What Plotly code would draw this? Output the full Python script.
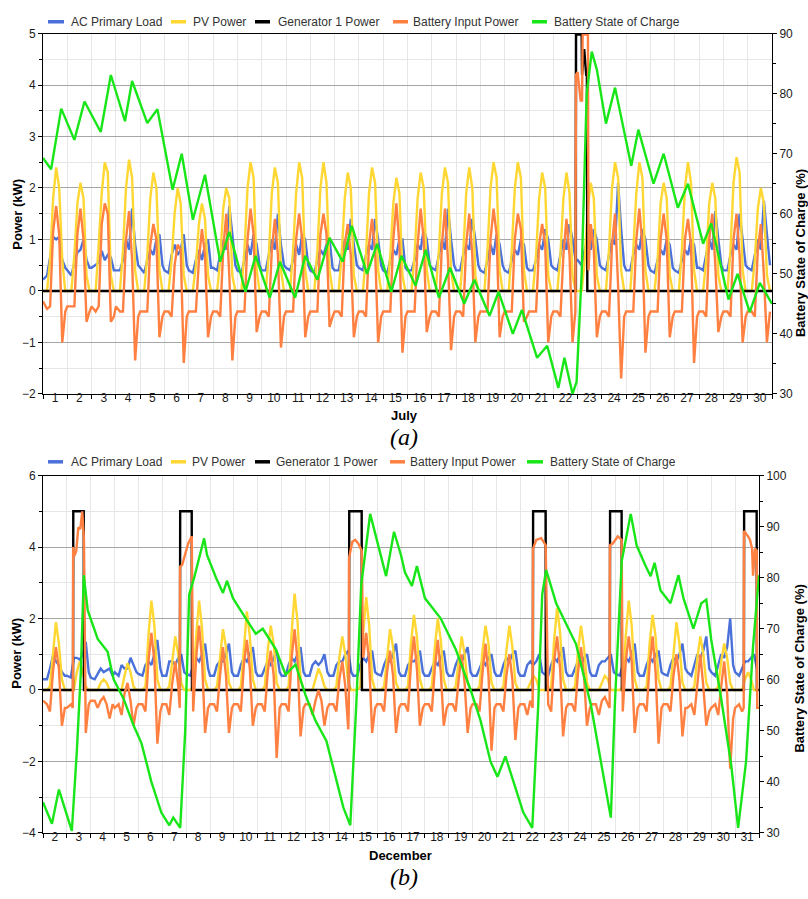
import plotly.graph_objects as go

# ---------------- DATA ----------------
HOURS = [0, 4, 7, 10, 13, 16, 19, 22]   # sample hours within each day

DAY_LABELS_A = ["1","2","3","4","5","6","7","8","9","10","11","12","13","14","15",
                "16","17","18","19","20","21","22","23","24","25","26","27","28","29","30"]
DAY_LABELS_B = ["2","3","4","5","6","7","8","9","10","11","12","13","14","15","16",
                "17","18","19","20","21","22","23","24","25","26","27","28","29","30","31"]

SERIES_NAMES = ["AC Primary Load", "PV Power", "Generator 1 Power",
                "Battery Input Power", "Battery State of Charge"]

# ---- (a) July ----
PV_A = [
    [0,0,0.6,1.8,2.4,2.0,0.6,0], [0,0,0.7,1.7,2.1,1.8,0.3,0], [0,0,0.9,1.9,2.5,2.3,0.3,0],
    [0,0,0.8,2.0,2.55,2.2,0.4,0], [0,0,0.7,1.8,2.3,2.0,0.4,0], [0,0,0.6,1.5,2.0,1.7,0.3,0],
    [0,0,0.5,1.3,1.7,1.4,0.3,0], [0,0,0.6,1.6,2.0,1.8,0.3,0], [0,0,0.8,2.0,2.5,2.2,0.4,0],
    [0,0,0.7,1.9,2.4,2.1,0.4,0], [0,0,0.8,1.9,2.5,2.2,0.4,0], [0,0,0.8,2.0,2.5,2.1,0.4,0],
    [0,0,0.7,1.8,2.3,2.0,0.3,0], [0,0,0.7,1.9,2.4,2.1,0.4,0], [0,0,0.7,1.7,2.2,1.9,0.3,0],
    [0,0,0.7,1.8,2.3,2.0,0.4,0], [0,0,0.8,1.9,2.4,2.1,0.4,0], [0,0,0.7,1.9,2.4,2.0,0.3,0],
    [0,0,0.8,2.0,2.5,2.2,0.4,0], [0,0,0.8,2.0,2.5,2.2,0.4,0], [0,0,0.7,1.8,2.3,2.0,0.3,0],
    [0,0,0.7,1.8,2.3,1.9,0.3,0], [0,0,0.6,1.6,2.1,1.8,0.3,0], [0,0,0.8,2.0,2.5,2.2,0.4,0],
    [0,0,0.8,1.9,2.5,2.2,0.4,0], [0,0,0.6,1.7,2.1,1.8,0.3,0], [0,0,0.8,2.0,2.5,2.1,0.4,0],
    [0,0,0.6,1.7,2.1,1.8,0.3,0], [0,0,0.8,2.1,2.6,2.3,0.4,0], [0,0,0.6,1.6,2.0,1.7,0.3,0],
]
LOAD_A = [
    [0.22,0.3,0.65,1.05,1.0,1.05,0.6,0.45], [0.4,0.3,0.55,0.75,0.8,1.0,0.6,0.45],
    [0.45,0.5,0.55,0.78,0.6,0.7,0.65,0.4], [0.4,0.4,0.6,1.0,0.8,1.6,0.9,0.5],
    [0.45,0.35,0.6,0.8,0.7,1.0,1.1,0.5], [0.4,0.35,0.7,0.9,0.7,0.8,1.1,0.5],
    [0.4,0.35,0.6,0.8,0.6,0.9,1.0,0.45], [0.45,0.4,0.7,1.0,0.8,1.65,1.1,0.5],
    [0.4,0.35,0.6,0.9,0.7,1.1,0.9,0.5], [0.4,0.4,0.7,1.0,0.8,1.5,0.9,0.5],
    [0.45,0.4,0.6,0.9,0.7,1.1,1.0,0.5], [0.4,0.35,0.6,0.8,0.7,0.9,1.0,0.45],
    [0.4,0.4,0.7,1.0,0.8,1.4,0.9,0.5], [0.45,0.4,0.7,0.9,0.8,1.4,1.0,0.5],
    [0.4,0.35,0.6,0.8,0.7,1.0,1.0,0.45], [0.4,0.4,0.6,0.9,0.8,1.2,1.0,0.5],
    [0.45,0.4,0.7,1.0,0.8,1.6,1.0,0.5], [0.4,0.4,0.7,0.9,0.8,1.4,1.0,0.5],
    [0.4,0.35,0.6,0.9,0.7,1.1,0.9,0.5], [0.4,0.35,0.6,0.8,0.7,1.0,0.9,0.45],
    [0.4,0.4,0.6,0.9,0.8,1.2,1.0,0.5], [0.45,0.4,0.7,1.0,0.8,1.3,1.0,0.6],
    [0.6,0.5,0.8,1.0,0.8,1.2,1.0,0.5], [0.45,0.4,0.7,1.0,0.9,2.1,1.2,0.5],
    [0.4,0.4,0.7,0.9,0.8,1.2,1.0,0.5], [0.4,0.35,0.6,0.8,0.7,1.0,0.9,0.45],
    [0.4,0.35,0.6,0.8,0.7,1.0,0.9,0.45], [0.45,0.4,0.7,1.0,0.8,1.55,1.0,0.5],
    [0.4,0.4,0.7,0.9,0.8,1.5,1.0,0.5], [0.45,0.4,0.7,1.0,0.8,1.75,1.1,0.5],
]
BATT_A = [
    [-0.2,-0.35,-0.3,1.15,1.65,1.1,-1.0,-0.4], [-0.3,-0.3,-0.3,1.1,1.6,1.0,-0.6,-0.4],
    [-0.3,-0.4,-0.3,1.3,1.7,1.5,-0.6,-0.5], [-0.3,-0.4,-0.4,1.0,1.55,0.6,-1.35,-0.5],
    [-0.4,-0.4,-0.4,0.9,1.3,1.0,-0.9,-0.5], [-0.4,-0.4,-0.5,0.5,0.9,0.8,-1.4,-0.5],
    [-0.4,-0.4,-0.4,0.6,1.2,0.7,-0.9,-0.5], [-0.4,-0.4,-0.5,0.8,1.5,0.3,-1.35,-0.5],
    [-0.4,-0.4,-0.4,1.0,1.6,1.1,-0.8,-0.5], [-0.4,-0.4,-0.5,0.8,1.4,0.7,-1.1,-0.5],
    [-0.4,-0.4,-0.4,1.0,1.5,1.0,-0.9,-0.5], [-0.4,-0.4,-0.4,1.1,1.5,1.1,-0.7,-0.5],
    [-0.4,-0.4,-0.5,0.9,1.3,0.7,-0.9,-0.5], [-0.4,-0.4,-0.5,0.9,1.4,0.8,-1.0,-0.5],
    [-0.4,-0.4,-0.4,1.0,1.7,0.9,-1.2,-0.5], [-0.4,-0.4,-0.4,0.9,1.6,1.0,-0.8,-0.5],
    [-0.4,-0.4,-0.5,0.9,1.6,0.6,-1.15,-0.5], [-0.4,-0.4,-0.5,0.9,1.5,0.7,-1.0,-0.5],
    [-0.4,-0.4,-0.4,1.0,1.6,1.1,-0.9,-0.5], [-0.4,-0.4,-0.4,1.0,1.5,1.2,-0.6,-0.5],
    [-0.4,-0.4,-0.4,0.9,1.3,0.9,-1.0,-0.5], [-0.4,-0.4,-0.5,0.7,1.4,0.7,-1.0,-0.5],
    [-0.4,-0.4,-0.4,1.0,1.3,0.8,-0.9,-0.5], [-0.4,-0.4,-0.5,0.9,1.5,0.1,-1.7,-0.5],
    [-0.4,-0.4,-0.4,1.0,1.6,0.9,-1.2,-0.5], [-0.4,-0.4,-0.4,1.0,1.5,1.0,-0.9,-0.5],
    [-0.4,-0.4,-0.4,1.0,1.4,0.9,-1.4,-0.5], [-0.4,-0.4,-0.5,1.0,1.5,0.5,-0.8,-0.5],
    [-0.4,-0.4,-0.5,1.0,1.5,0.7,-1.0,-0.5], [-0.4,-0.4,-0.5,0.8,1.3,0.3,-1.0,-0.4],
]
# battery input during the generator run (hours since start of month)
BATT_A_GEN_T = [[525.8, 526.4, 528.0, 529.5, 531.0, 532.4, 533.0, 538.2, 538.8]]
BATT_A_GEN_V = [[-0.4, 4.2, 4.25, 3.9, 3.7, 3.7, 4.98, 4.98, 0.4]]
GEN_A_T = [0, 526.0, 526.4, 532.0, 532.4, 534.5, 536.5, 537.2, 537.6, 720]
GEN_A_V = [0, 0, 4.98, 4.98, 4.2, 4.7, 4.2, 4.2, 0, 0]
SOC_A_T = [0, 8, 18, 31, 41, 57, 67, 81, 88, 103, 113, 128, 137, 148, 160, 175, 184,
           200, 210, 224, 234, 249, 259, 271, 283, 296, 305, 320, 330, 344, 354, 368,
           378, 391, 402, 416, 426, 441, 450, 464, 473, 488, 498, 509, 515, 523, 527,
           532, 537, 542, 547, 556, 565, 581, 588, 603, 613, 627, 637, 652, 660, 677,
           686, 698, 708, 720]
SOC_A_V = [69.3, 67.4, 77.5, 72.3, 78.7, 73.6, 83.1, 75.4, 82.1, 75.1, 77.4, 64, 70, 59,
           66.5, 52, 57, 47, 53, 46, 52, 46, 53, 49, 56, 52, 58, 50, 55, 47, 53, 48,
           54, 46, 51, 45, 49, 43, 47, 40, 44, 36, 38, 31, 36, 30, 32, 50, 80, 87, 84,
           75, 81, 68, 74, 65, 70, 61, 65, 55, 58.4, 45.7, 50, 43.6, 48.5, 45]

# ---- (b) December ----
PV_B = [
    [0,0,0.1,1.1,1.9,1.3,0.3,0], [0,0,0,0.5,0.8,0.5,0.1,0], [0,0,0,0.2,0.3,0.2,0,0],
    [0,0,0,0.4,0.75,0.5,0.1,0], [0,0,0.1,1.5,2.5,1.8,0.3,0], [0,0,0.1,0.9,1.5,1.0,0.2,0],
    [0,0,0.1,1.5,2.5,1.7,0.3,0], [0,0,0.1,1.0,1.7,1.2,0.2,0], [0,0,0.1,1.3,2.2,1.5,0.3,0],
    [0,0,0.1,1.1,1.8,1.3,0.2,0], [0,0,0.1,1.6,2.7,1.9,0.3,0], [0,0,0,0.3,0.6,0.4,0.1,0],
    [0,0,0.1,0.9,1.5,1.0,0.2,0], [0,0,0.1,1.6,2.6,1.8,0.3,0], [0,0,0.1,1.0,1.7,1.2,0.2,0],
    [0,0,0.1,1.3,2.1,1.5,0.3,0], [0,0,0.1,1.2,2.0,1.4,0.3,0], [0,0,0.1,0.9,1.5,1.0,0.2,0],
    [0,0,0.1,1.1,1.8,1.3,0.2,0], [0,0,0.1,1.1,1.8,1.2,0.2,0], [0,0,0,0.2,0.4,0.3,0,0],
    [0,0,0.1,1.4,2.3,1.6,0.3,0], [0,0,0.1,1.1,1.8,1.2,0.2,0], [0,0,0,0.2,0.4,0.3,0,0],
    [0,0,0.1,1.5,2.5,1.8,0.3,0], [0,0,0.1,1.3,2.1,1.5,0.3,0], [0,0,0.1,1.1,1.9,1.3,0.2,0],
    [0,0,0.1,0.9,1.5,1.0,0.2,0], [0,0,0.1,0.8,1.3,0.9,0.2,0], [0,0,0,0.3,0.5,0.3,0,0],
]
LOAD_B = [
    [0.3,0.3,0.6,0.95,0.8,0.7,0.5,0.4], [0.4,0.35,0.9,0.9,0.85,1.0,1.35,0.5],
    [0.35,0.3,0.45,0.6,0.5,0.55,0.6,0.4], [0.5,0.4,0.7,0.6,0.6,0.9,0.7,0.5],
    [0.45,0.4,0.7,0.8,0.7,1.0,1.4,0.6], [0.4,0.4,0.8,0.8,0.7,0.9,1.0,0.5],
    [0.45,0.4,0.7,0.9,0.8,1.0,1.3,0.6], [0.4,0.4,0.7,0.8,0.8,1.0,1.3,0.5],
    [0.4,0.4,0.7,0.9,0.8,1.0,1.2,0.5], [0.4,0.4,0.6,0.8,0.7,0.9,1.1,0.5],
    [0.4,0.4,0.7,0.9,0.8,1.0,1.2,0.5], [0.4,0.4,0.7,0.8,0.7,0.8,1.0,0.5],
    [0.4,0.4,0.7,0.8,0.8,1.0,1.1,0.5], [0.4,0.4,0.7,0.9,0.8,1.0,1.1,0.5],
    [0.45,0.4,0.7,0.9,0.8,1.0,1.3,0.5], [0.4,0.4,0.7,0.8,0.8,0.9,1.1,0.5],
    [0.4,0.4,0.6,0.8,0.7,0.9,1.1,0.5], [0.4,0.4,0.7,0.9,0.8,1.0,1.2,0.5],
    [0.4,0.4,0.6,0.8,0.7,0.9,1.0,0.5], [0.4,0.4,0.7,0.9,0.8,1.0,1.1,0.5],
    [0.4,0.4,0.7,0.8,0.7,0.8,1.0,0.5], [0.45,0.4,0.7,0.9,0.8,1.0,1.2,0.5],
    [0.4,0.4,0.6,0.8,0.7,0.9,1.0,0.5], [0.4,0.4,0.7,0.8,0.8,0.9,1.0,0.5],
    [0.45,0.4,0.7,0.9,0.8,1.0,1.3,0.5], [0.4,0.4,0.7,0.9,0.8,1.0,1.1,0.5],
    [0.45,0.4,0.7,0.9,0.8,1.0,1.3,0.6], [0.5,0.4,0.7,1.0,0.9,1.1,1.5,0.6],
    [0.5,0.4,0.7,1.0,0.9,1.2,2.0,0.7], [0.5,0.4,0.6,0.8,0.8,0.9,1.0,0.6],
]
BATT_B = [
    [-0.3,-0.4,-0.6,0.5,1.2,0.6,-1.0,-0.5], [-0.5,-0.4,-0.5,0.0,0.0,0.0,-1.2,-0.4],
    [-0.3,-0.3,-0.5,-0.3,-0.2,-0.4,-0.8,-0.4], [-0.5,-0.4,-0.7,-0.1,0.2,-0.3,-1.0,-0.5],
    [-0.4,-0.4,-0.6,0.8,1.6,0.8,-1.5,-0.6], [-0.4,-0.4,-0.7,0.2,0.8,0.1,0.0,0.0],
    [0.0,0.0,-0.6,0.9,1.8,0.8,-1.2,-0.5], [-0.4,-0.4,-0.6,0.4,1.2,0.4,-1.2,-0.5],
    [-0.4,-0.4,-0.6,0.7,1.4,0.6,-1.0,-0.5], [-0.4,-0.4,-0.6,0.5,1.1,0.4,-1.9,-0.5],
    [-0.4,-0.4,-0.6,0.9,1.7,0.8,-1.3,-0.5], [-0.4,-0.4,-0.7,-0.3,0.0,-0.3,-1.0,-0.5],
    [-0.4,-0.4,-0.6,0.3,0.8,0.1,-1.1,0.0], [0.0,0.0,0.0,0.9,1.6,0.8,-1.2,-0.5],
    [-0.4,-0.4,-0.6,0.5,1.1,0.4,-1.2,-0.5], [-0.4,-0.4,-0.6,0.7,1.5,0.6,-1.0,-0.5],
    [-0.4,-0.4,-0.6,0.6,1.4,0.5,-1.0,-0.5], [-0.4,-0.4,-0.6,0.3,1.0,0.2,-1.2,-0.5],
    [-0.4,-0.4,-0.6,0.5,1.3,0.4,-1.7,-0.5], [-0.4,-0.4,-0.6,0.4,1.0,0.3,-1.4,-0.5],
    [-0.4,-0.4,-0.7,-0.3,0.0,0.0,0.0,0.0], [0.0,-0.4,-0.6,0.8,1.5,0.6,-1.3,-0.5],
    [-0.4,-0.4,-0.6,0.5,1.2,0.4,-1.0,-0.5], [-0.4,-0.4,-0.7,-0.3,-0.2,-0.4,0.0,0.0],
    [0.0,0.0,-0.6,0.8,1.5,0.8,-1.2,-0.5], [-0.4,-0.4,-0.6,0.7,1.5,0.5,-1.5,-0.5],
    [-0.4,-0.4,-0.6,0.4,1.0,0.3,-1.3,-0.5], [-0.5,-0.4,-0.7,0.2,1.0,0.1,-1.0,-0.6],
    [-0.5,-0.4,-0.7,0.1,0.8,-0.1,-2.2,-0.8], [-0.5,-0.4,-0.6,0.0,0.0,0.0,0.0,0.0],
]
BATT_B_GEN_T = [
    [30.0, 30.3, 31.5, 33.5, 35.5, 37.5, 39.5, 41.2],
    [137.5, 137.8, 140.0, 143.0, 146.0, 149.6],
    [307.5, 307.8, 311.0, 314.0, 317.0, 320.5],
    [492.4, 492.7, 496.0, 501.0, 505.5],
    [569.8, 570.1, 573.0, 578.0, 581.9],
    [704.6, 704.9, 709.0, 711.0, 713.0, 714.0, 716.0, 717.7, 718.2, 720.0],
]
BATT_B_GEN_V = [
    [-0.5, 4.0, 3.75, 3.9, 4.55, 4.5, 5.0, 4.2],
    [-0.5, 3.45, 3.5, 3.8, 4.1, 4.3],
    [-0.5, 3.7, 4.15, 4.2, 4.1, 3.9],
    [-0.5, 3.95, 4.2, 4.25, 4.05],
    [-0.5, 4.05, 4.1, 4.3, 4.2],
    [-0.5, 4.45, 4.3, 4.2, 3.96, 3.2, 3.96, 3.9, -0.5, -0.5],
]
GEN_B_ON = [30.2, 137.7, 307.7, 492.6, 570.0, 704.8]
GEN_B_OFF = [41.2, 149.8, 320.7, 505.7, 582.1, 717.9]
GEN_B_LEVEL = [5.0, 5.0, 5.0, 5.0, 5.0, 5.0]
SOC_B_T = [0, 9, 16, 29, 34, 38, 41, 45, 55, 65, 71, 81, 91, 99, 109, 119, 127, 131,
           138, 143, 147, 152, 162, 165, 174, 181, 185, 191, 204, 214, 221, 234, 244,
           254, 264, 274, 285, 295, 302, 306, 309, 315, 320, 329, 335, 345, 353, 360,
           364, 371, 376, 384, 400, 415, 430, 440, 450, 457, 465, 473, 483, 492, 498,
           502, 506, 516, 526, 536, 551, 561, 568, 571, 575, 582, 591, 597, 606, 611,
           615, 621, 631, 639, 644, 654, 662, 667, 672, 682, 692, 699, 707, 714, 720]
SOC_B_V = [36.0, 31.8, 38.5, 30.4, 45.9, 61.3, 80.5, 73.6, 68.0, 65.5, 60.1, 56.3, 51.1,
           47.6, 40, 34, 31.5, 33, 31, 50, 76.7, 80, 87.7, 84.4, 80, 77, 79.4, 76, 72, 69,
           70, 66, 61, 63, 57, 52, 48, 40, 35, 33, 31.5, 55, 78.6, 92.5, 87.7, 80.3, 89,
           84.4, 81, 78.4, 82.3, 76, 72, 66, 58, 52, 44, 41, 45, 40, 34, 31, 55, 76.7,
           81.5, 75, 71, 67, 55, 44, 36, 33, 55, 83.3, 92.5, 86.3, 82.3, 80.3, 82.9, 77.5,
           75, 80.5, 76, 70, 75, 75.7, 67.8, 56.3, 43.4, 31, 44, 66.5, 80.5]

# ---------------- helpers ----------------
def daily(rows):
    xs, ys = [], []
    for d, row in enumerate(rows):
        for h, v in zip(HOURS, row):
            xs.append(d * 24 + h)
            ys.append(v)
    return xs, ys

def with_windows(rows, win_t, win_v):
    xs, ys = daily(rows)
    pts = list(zip(xs, ys))
    for wt, wv in zip(win_t, win_v):
        lo, hi = wt[0], wt[-1]
        pts = [p for p in pts if not (lo <= p[0] <= hi)]
        pts += list(zip(wt, wv))
    pts.sort()
    return [p[0] for p in pts], [p[1] for p in pts]

def gen_pulses(on, off, lvl):
    xs, ys = [0], [0]
    for a, b, v in zip(on, off, lvl):
        xs += [a, a + 0.25, b - 0.25, b]
        ys += [0, v, v, 0]
    xs.append(720); ys.append(0)
    return xs, ys

BLUE = "#4A70DA"
YELLOW = "#FFD733"
BLACK = "#000000"
ORANGE = "#FF8040"
GREEN = "#19E619"
COLORS = [BLUE, YELLOW, BLACK, ORANGE, GREEN]
LW = 2.4

W, H = 808, 899
def px(x): return x / W
def py(y): return 1 - y / H

fig = go.Figure()

def add_chart(xa, ya, ya2, load, pv, gen, batt, soc):
    series = [load, pv, gen, batt]
    for (x, y), c in zip(series, COLORS[:4]):
        fig.add_trace(go.Scatter(x=x, y=y, mode="lines", xaxis=xa, yaxis=ya,
                                 line=dict(color=c, width=LW), showlegend=False,
                                 hoverinfo="skip"))
    fig.add_trace(go.Scatter(x=soc[0], y=soc[1], mode="lines", xaxis=xa, yaxis=ya2,
                             line=dict(color=GREEN, width=LW), showlegend=False,
                             hoverinfo="skip"))

add_chart("x", "y", "y2", daily(LOAD_A), daily(PV_A), (GEN_A_T, GEN_A_V),
          with_windows(BATT_A, BATT_A_GEN_T, BATT_A_GEN_V), (SOC_A_T, SOC_A_V))
add_chart("x2", "y3", "y4", daily(LOAD_B), daily(PV_B),
          gen_pulses(GEN_B_ON, GEN_B_OFF, GEN_B_LEVEL),
          with_windows(BATT_B, BATT_B_GEN_T, BATT_B_GEN_V), (SOC_B_T, SOC_B_V))

TICKFONT = dict(family="Arial, Liberation Sans, sans-serif", size=12, color="#1a1a1a")
XTICKFONT = dict(family="Liberation Sans Narrow, Arial Narrow, Arial, sans-serif", size=12, color="#1a1a1a")

def xaxis_cfg(dom, labels, anchor):
    return dict(domain=dom, range=[0, 720], anchor=anchor,
                tickmode="array", tickvals=[12 + 24 * i for i in range(len(labels))],
                ticktext=labels, ticks="", showgrid=False, zeroline=False,
                showline=True, linecolor="black", linewidth=1, mirror=True,
                tickfont=XTICKFONT, ticklabelstandoff=-7,
                minor=dict(tick0=0, dtick=24, ticks="outside", ticklen=4,
                           tickcolor="black", showgrid=True, gridcolor="#E6E6E6",
                           gridwidth=1))

def yleft_cfg(dom, rng, dt, mdt, anchor):
    return dict(domain=dom, range=rng, anchor=anchor, dtick=dt, tick0=0,
                showgrid=True, gridcolor="#A6A6A6", gridwidth=1, zeroline=False,
                ticks="outside", ticklen=4, tickcolor="black",
                showline=True, linecolor="black", linewidth=1,
                tickfont=TICKFONT,
                minor=dict(dtick=mdt, ticks="outside", ticklen=3, tickcolor="black",
                           showgrid=True, gridcolor="#E6E6E6", gridwidth=1))

def yright_cfg(rng, overlay, anchor):
    return dict(range=rng, overlaying=overlay, side="right", anchor=anchor,
                dtick=10, tick0=0, showgrid=False, zeroline=False,
                ticks="outside", ticklen=4, tickcolor="black",
                showline=True, linecolor="black", linewidth=1,
                tickfont=TICKFONT,
                minor=dict(dtick=5, ticks="outside", ticklen=3, tickcolor="black",
                           showgrid=False))

layout = dict(
    width=W, height=H, margin=dict(l=0, r=0, t=0, b=0),
    paper_bgcolor="white", plot_bgcolor="white", showlegend=False,
    xaxis=xaxis_cfg([px(43), px(772)], DAY_LABELS_A, "y"),
    yaxis=yleft_cfg([py(393), py(27)], [-2, 5], 1, 0.5, "x"),
    yaxis2=yright_cfg([30, 90], "y", "x"),
    xaxis2=xaxis_cfg([px(43), px(759)], DAY_LABELS_B, "y3"),
    yaxis3=yleft_cfg([py(839), py(476)], [-4, 6], 2, 1, "x2"),
    yaxis4=yright_cfg([30, 100], "y3", "x2"),
)
fig.update_layout(**layout)

# ---- legends (manual, to match compact line swatches) ----
shapes, annots = [], []
LEG_X_A = [(48, 64, 69), (171, 186, 191), (255, 270, 276), (393, 408, 411), (532, 547, 552)]
LEG_X_B = [(48, 63, 69), (171, 186, 190), (255, 270, 274), (390, 405, 408), (527, 543, 548)]
for legy, legx in ((15, LEG_X_A), (462, LEG_X_B)):
    for (x0, x1, tx), name, c in zip(legx, SERIES_NAMES, COLORS):
        shapes.append(dict(type="line", xref="paper", yref="paper",
                           x0=px(x0), x1=px(x1), y0=py(legy), y1=py(legy),
                           line=dict(color=c, width=3.5)))
        annots.append(dict(x=px(tx), y=py(legy), xref="paper", yref="paper",
                           text=name, showarrow=False, xanchor="left", yanchor="middle",
                           font=dict(family="Arial, Liberation Sans, sans-serif",
                                     size=12, color="#333333")))

BOLD = dict(family="Arial, Liberation Sans, sans-serif", size=13, color="#000000")
for txt, x, y, ang in (("<b>Power (kW)</b>", 18, 211, -90),
                       ("<b>Battery State of Charge (%)</b>", 800, 250, -90),
                       ("<b>July</b>", 404, 415, 0),
                       ("<b>Power (kW)</b>", 17, 657, -90),
                       ("<b>Battery State of Charge (%)</b>", 800, 672, -90),
                       ("<b>December</b>", 400, 862, 0)):
    annots.append(dict(x=px(x), y=py(y), xref="paper", yref="paper", text=txt,
                       showarrow=False, textangle=ang, xanchor="center",
                       yanchor="middle", font=BOLD))
for txt, y in (("(a)", 437), ("(b)", 884)):
    annots.append(dict(x=px(404), y=py(y), xref="paper", yref="paper", text=txt,
                       showarrow=False, xanchor="center", yanchor="middle",
                       font=dict(family="Liberation Serif, Times New Roman, serif",
                                 size=24, color="#000000", style="italic")))

fig.update_layout(shapes=shapes, annotations=annots)
fig.write_html("out.html")
